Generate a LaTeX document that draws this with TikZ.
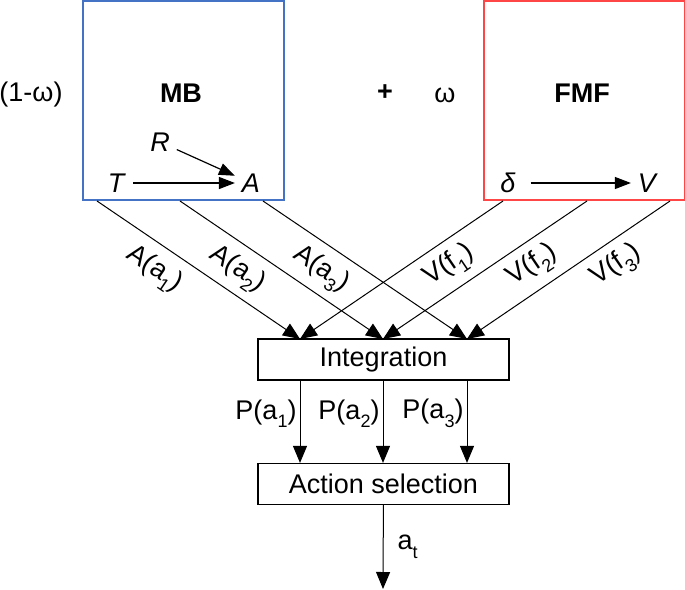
\documentclass[tikz,border=0pt]{standalone}
\usepackage{fontspec}
\setmainfont{Liberation Sans}
\usetikzlibrary{arrows.meta}
\definecolor{mbblue}{RGB}{68,114,196}
\definecolor{fmfred}{RGB}{255,70,70}
\newcommand\bodyfont{\fontsize{13.5}{15}\selectfont}
\newcommand\lowsub[1]{\raisebox{-0.6ex}{\fontsize{9}{10}\selectfont #1}}
\begin{document}
\begin{tikzpicture}[x=0.5pt,y=-0.5pt,font=\bodyfont,
 module/.style={draw,line width=0.75pt,minimum width=100.5pt,minimum height=99.5pt,inner sep=0pt},
 stage/.style={draw,line width=0.6pt,minimum width=125.5pt,minimum height=20.5pt,inner sep=0pt},
 link/.style={line width=0.5pt,-{Triangle[length=8.5pt,width=7pt]}},
 inlink/.style={line width=0.6pt,-{Triangle[length=8pt,width=6pt]}},
 alab/.style={sloped,below,inner sep=5pt,pos=0.35},
 vlab/.style={sloped,below,inner sep=4.5pt,pos=0.33}]
 \useasboundingbox (0,0) rectangle (685,589);

 \node[module,draw=mbblue] (mb) at (183.5,100.5) {};
 \node[module,draw=fmfred] (fmf) at (584.5,100.5) {};

 \node (wl) at (31,95) {(1-ω)};
 \node[font=\bodyfont\bfseries] (mbname) at (181,93) {MB};
 \node[font=\bodyfont\bfseries] (plus) at (385,93) {+};
 \node (wr) at (445,95) {ω};
 \node[font=\bodyfont\bfseries] (fmfname) at (582,93) {FMF};

 \node (R) at (160,142) {\textit{R}};
 \node (T) at (117,183) {\textit{T}};
 \node (A) at (251,183) {\textit{A}};
 \node (d) at (508,183) {\textit{δ}};
 \node (V) at (648,183) {\textit{V}};
 \draw[inlink] (T) -- (A);
 \draw[inlink] (R) -- (A);
 \draw[inlink,shorten <=4pt] (d) -- (V);

 \node[stage] (integ) at (383.5,359.5) {Integration};
 \node[stage] (act) at (383.5,484) {Action selection};

 \coordinate (m1) at (97,201);
 \coordinate (m2) at (180,201);
 \coordinate (m3) at (263,201);
 \coordinate (f1) at (503,201);
 \coordinate (f2) at (587,201);
 \coordinate (f3) at (670,201);
 \coordinate (g1) at (300,339);
 \coordinate (g2) at (383,339);
 \coordinate (g3) at (467,339);
 \coordinate (out) at (383,589);

 \draw[link] (m1) -- node[alab] {A(a\lowsub{1})} (g1);
 \draw[link] (m2) -- node[alab] {A(a\lowsub{2})} (g2);
 \draw[link] (m3) -- node[alab] {A(a\lowsub{3})} (g3);
 \draw[link] (f1) -- node[vlab] {V(f\lowsub{1})} (g1);
 \draw[link] (f2) -- node[vlab] {V(f\lowsub{2})} (g2);
 \draw[link] (f3) -- node[vlab] {V(f\lowsub{3})} (g3);

 \draw[link] (integ.south -| g1) -- node[left,pos=0.4,inner sep=1.5pt] {P(a\lowsub{1})} (act.north -| g1);
 \draw[link] (integ.south -| g2) -- node[left,pos=0.4,inner sep=1.5pt] {P(a\lowsub{2})} (act.north -| g2);
 \draw[link] (integ.south -| g3) -- node[left,pos=0.4,inner sep=1.5pt] {P(a\lowsub{3})} (act.north -| g3);
 \draw[link] (act) -- node[right,inner sep=7pt] {a\lowsub{t}} (out);
\end{tikzpicture}
\end{document}
